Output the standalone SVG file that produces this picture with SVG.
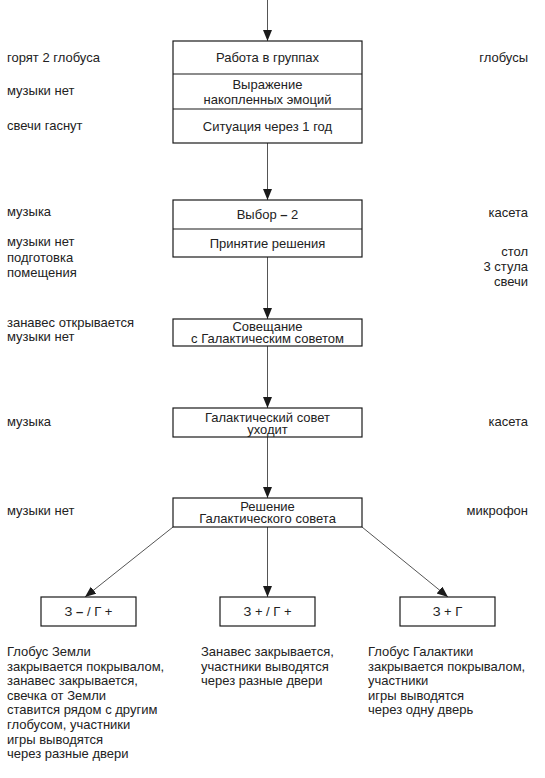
<svg xmlns="http://www.w3.org/2000/svg" width="545" height="778" viewBox="0 0 545 778">
<style>
text{font-family:"Liberation Sans",Arial,sans-serif;font-size:13px;fill:#222}
.c{text-anchor:middle}
.r{text-anchor:end}
.box{fill:#fff;stroke:#1a1a1a;stroke-width:1.2}
.div{stroke:#1a1a1a;stroke-width:1.2}
.ln{stroke:#555;stroke-width:1;fill:none;marker-end:url(#ah)}
.b{font-weight:bold}
</style>
<defs>
<marker id="ah" markerUnits="userSpaceOnUse" markerWidth="12" markerHeight="10" refX="11" refY="4.5" orient="auto">
<path d="M0,0 L11,4.5 L0,9 Z" fill="#1a1a1a"/>
</marker>
</defs>
<rect width="545" height="778" fill="#fff"/>
<g id="connectors">
<line class="ln" x1="267.5" y1="0" x2="267.5" y2="41"/>
<line class="ln" x1="267.5" y1="143" x2="267.5" y2="200"/>
<line class="ln" x1="267.5" y1="257" x2="267.5" y2="319"/>
<line class="ln" x1="267.5" y1="346" x2="267.5" y2="408"/>
<line class="ln" x1="267.5" y1="437" x2="267.5" y2="498"/>
<line class="ln" x1="173" y1="527" x2="85" y2="597"/>
<line class="ln" x1="267.5" y1="527" x2="267.5" y2="597"/>
<line class="ln" x1="362" y1="527" x2="448" y2="597"/>
</g>
<g id="node1">
<rect class="box" x="173" y="41" width="189" height="102"/>
<line class="div" x1="173" y1="74" x2="362" y2="74"/>
<line class="div" x1="173" y1="109" x2="362" y2="109"/>
<text class="c" x="267.5" y="62">Работа в группах</text>
<text class="c" x="267.5" y="89">Выражение</text>
<text class="c" x="267.5" y="104">накопленных эмоций</text>
<text class="c" x="267.5" y="131">Ситуация через 1 год</text>
</g>
<g id="labels1">
<text x="7" y="62">горят 2 глобуса</text>
<text x="7" y="95">музыки нет</text>
<text x="7" y="130">свечи гаснут</text>
<text class="r" x="528" y="62">глобусы</text>
</g>
<g id="node2">
<rect class="box" x="173" y="200" width="189" height="57"/>
<line class="div" x1="173" y1="229" x2="362" y2="229"/>
<text class="c" x="267.5" y="219">Выбор <tspan class="b">–</tspan> 2</text>
<text class="c" x="267.5" y="248">Принятие решения</text>
</g>
<g id="labels2">
<text x="7" y="216">музыка</text>
<text x="7" y="246">музыки нет</text>
<text x="7" y="262">подготовка</text>
<text x="7" y="277">помещения</text>
<text class="r" x="528" y="217">касета</text>
<text class="r" x="528" y="256">стол</text>
<text class="r" x="528" y="271">3 стула</text>
<text class="r" x="528" y="286">свечи</text>
</g>
<g id="node3">
<rect class="box" x="173" y="319" width="189" height="27"/>
<text class="c" x="267.5" y="330.5">Совещание</text>
<text class="c" x="267.5" y="342.5">с Галактическим советом</text>
</g>
<g id="labels3">
<text x="7" y="327">занавес открывается</text>
<text x="7" y="341">музыки нет</text>
</g>
<g id="node4">
<rect class="box" x="173" y="408" width="189" height="29"/>
<text class="c" x="267.5" y="421.5">Галактический совет</text>
<text class="c" x="267.5" y="433.5">уходит</text>
</g>
<g id="labels4">
<text x="7" y="426">музыка</text>
<text class="r" x="528" y="426">касета</text>
</g>
<g id="node5">
<rect class="box" x="173" y="498" width="189" height="29"/>
<text class="c" x="267.5" y="510.5">Решение</text>
<text class="c" x="267.5" y="522.5">Галактического совета</text>
</g>
<g id="labels5">
<text x="7" y="515">музыки нет</text>
<text class="r" x="528" y="515">микрофон</text>
</g>
<g id="nodeA">
<rect class="box" x="41" y="597" width="95" height="29"/>
<text class="c" x="88.5" y="616">З <tspan class="b">–</tspan> / Г +</text>
</g>
<g id="nodeB">
<rect class="box" x="220" y="597" width="95" height="29"/>
<text class="c" x="267.5" y="616">З + / Г +</text>
</g>
<g id="nodeC">
<rect class="box" x="400" y="597" width="95" height="29"/>
<text class="c" x="447.5" y="616">З + Г</text>
</g>
<g id="notes">
<text x="7" y="656">Глобус Земли</text>
<text x="7" y="670.6">закрывается покрывалом,</text>
<text x="7" y="685.2">занавес закрывается,</text>
<text x="7" y="699.8">свечка от Земли</text>
<text x="7" y="714.4">ставится рядом с другим</text>
<text x="7" y="729">глобусом, участники</text>
<text x="7" y="743.6">игры выводятся</text>
<text x="7" y="758.2">через разные двери</text>
<text x="201" y="656">Занавес закрывается,</text>
<text x="201" y="670.6">участники выводятся</text>
<text x="201" y="685.2">через разные двери</text>
<text x="368" y="656">Глобус Галактики</text>
<text x="368" y="670.6">закрывается покрывалом,</text>
<text x="368" y="685.2">участники</text>
<text x="368" y="699.8">игры выводятся</text>
<text x="368" y="714.4">через одну дверь</text>
</g>
</svg>
